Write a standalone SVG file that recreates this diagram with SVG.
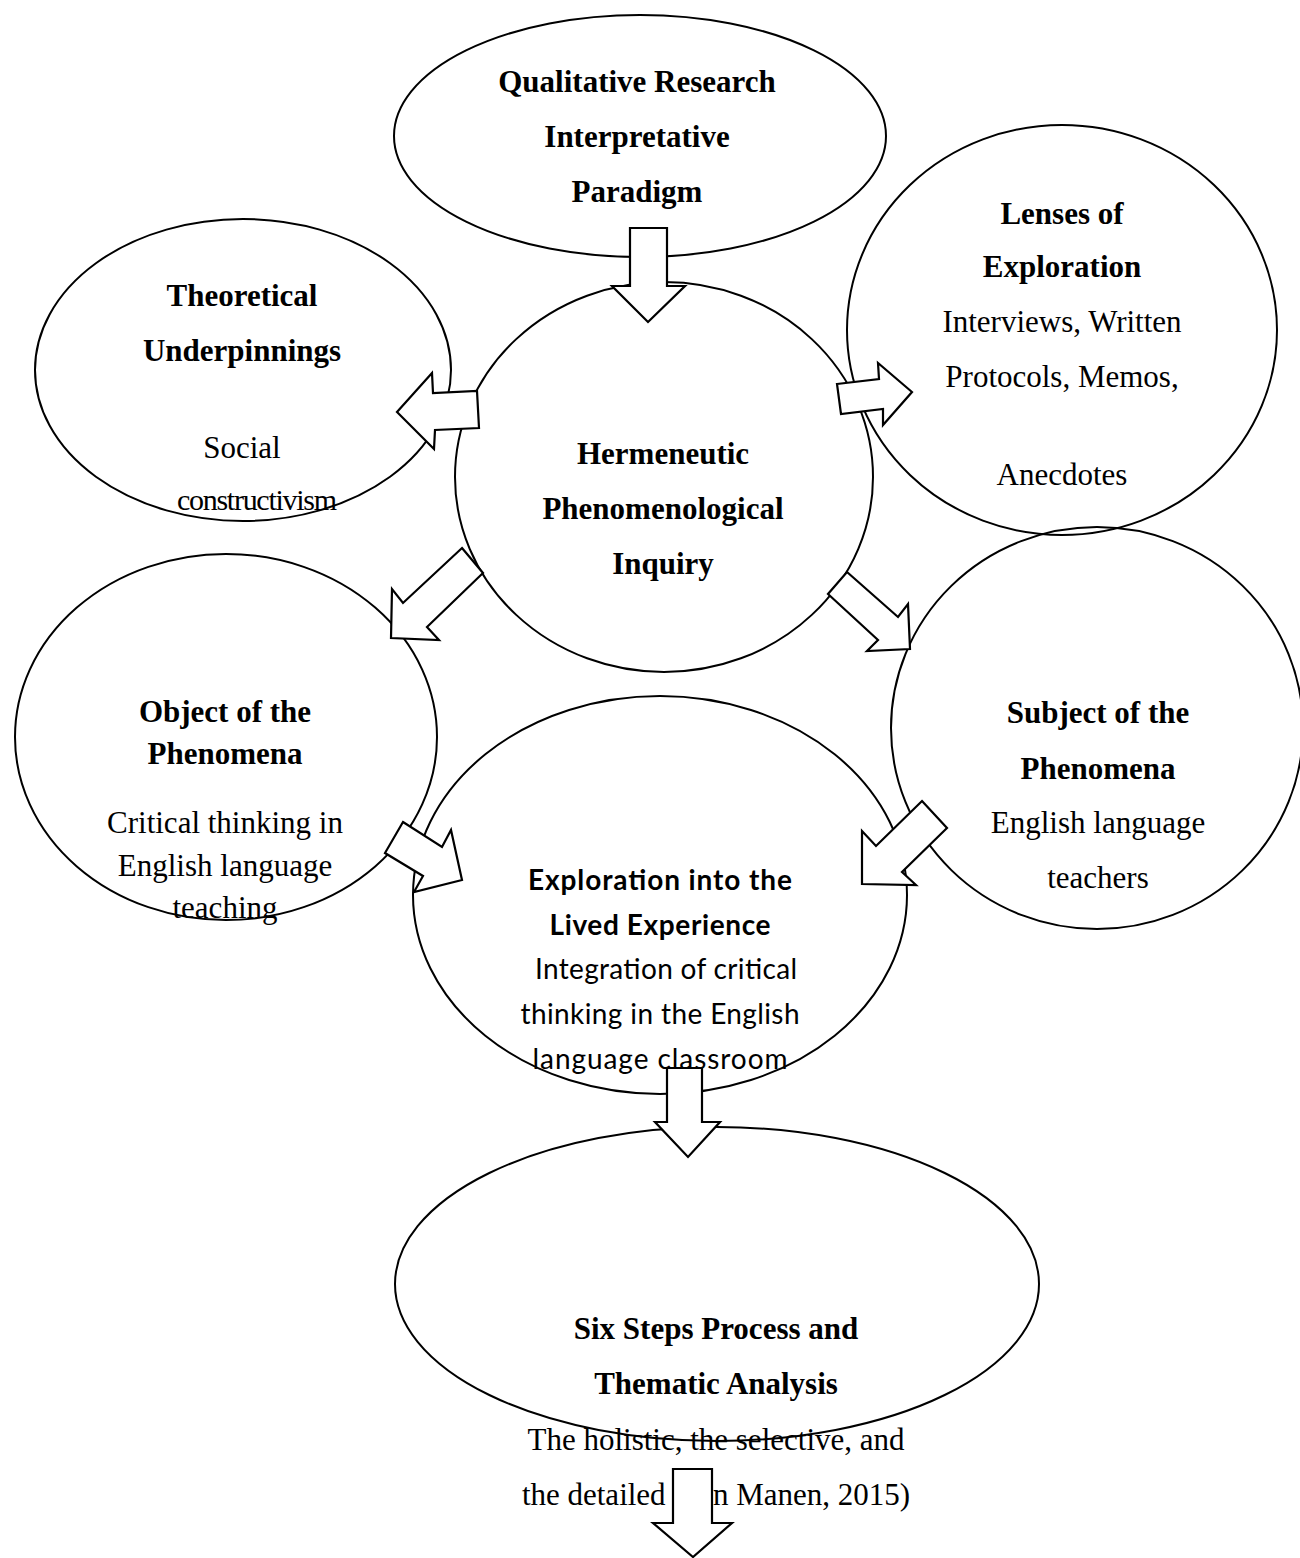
<svg xmlns="http://www.w3.org/2000/svg" width="1300" height="1558" viewBox="0 0 1300 1558">
<style>
.node ellipse{fill:none;stroke:#000;stroke-width:2}
.arrow{fill:#fff;stroke:#000;stroke-width:2.2;stroke-linejoin:miter}
text{font-family:"Liberation Serif","Times New Roman",serif;font-size:31px;fill:#000;text-anchor:middle}
.b{font-weight:bold}
.c{font-family:Lato,"Open Sans",sans-serif;font-size:28px}
</style>
<rect width="1300" height="1558" fill="#fff"/>
<g id="node-qualitative" class="node"><ellipse cx="640" cy="136" rx="246" ry="121"/></g>
<g id="node-theoretical" class="node"><ellipse cx="243" cy="370" rx="208" ry="151"/></g>
<g id="node-lenses" class="node"><ellipse cx="1062" cy="330" rx="215" ry="205"/></g>
<g id="node-hermeneutic" class="node"><ellipse cx="664" cy="477" rx="209" ry="195"/></g>
<g id="node-object" class="node"><ellipse cx="226" cy="737" rx="211" ry="183"/></g>
<g id="node-subject" class="node"><ellipse cx="1097" cy="728" rx="206" ry="201"/></g>
<g id="node-exploration" class="node"><ellipse cx="660" cy="895" rx="247" ry="199"/></g>
<g id="node-sixsteps" class="node"><ellipse cx="717" cy="1284" rx="322" ry="157"/></g>
<g id="connectors">
<polygon class="arrow" points="630,228 667,228 667,286 685,286 648,322 612,286 630,286"/>
<polygon class="arrow" points="397,412 432,373 433,393 477,391 479,428 435,430 434,449"/>
<polygon class="arrow" points="837,384 879,379 878,363 912,392 883,425 883,409 841,414"/>
<polygon class="arrow" points="462,548 483,573 427,627 439,640 391,638 392,589 403,603"/>
<polygon class="arrow" points="847,572 898,617 908,604 910,649 867,651 878,640 828,594"/>
<polygon class="arrow" points="403,822 442,847 451,830 462,880 414,892 423,876 385,853"/>
<polygon class="arrow" points="922,801 947,828 902,872 916,885 862,884 862,831 876,846"/>
<polygon class="arrow" points="667,1068 702,1068 702,1122 720,1122 688,1157 655,1122 667,1122"/>
</g>
<g id="labels">
<text class="b" x="637" y="92">Qualitative Research</text>
<text class="b" x="637" y="147">Interpretative</text>
<text class="b" x="637" y="202">Paradigm</text>
<text class="b" x="242" y="306">Theoretical</text>
<text class="b" x="242" y="361">Underpinnings</text>
<text x="242" y="458">Social</text>
<text x="257" y="510" style="font-size:30px" textLength="160" lengthAdjust="spacing">constructivism</text>
<text class="b" x="1062" y="224">Lenses of</text>
<text class="b" x="1062" y="277">Exploration</text>
<text x="1062" y="332">Interviews, Written</text>
<text x="1062" y="387">Protocols, Memos,</text>
<text x="1062" y="485">Anecdotes</text>
<text class="b" x="663" y="464">Hermeneutic</text>
<text class="b" x="663" y="519">Phenomenological</text>
<text class="b" x="663" y="574">Inquiry</text>
<text class="b" x="225" y="722">Object of the</text>
<text class="b" x="225" y="764">Phenomena</text>
<text x="225" y="833">Critical thinking in</text>
<text x="225" y="876">English language</text>
<text x="225" y="918">teaching</text>
<text class="b" x="1098" y="723">Subject of the</text>
<text class="b" x="1098" y="779">Phenomena</text>
<text x="1098" y="833">English language</text>
<text x="1098" y="888">teachers</text>
<text class="c b" x="660" y="890" textLength="264" lengthAdjust="spacing">Exploration into the</text>
<text class="c b" x="660" y="935" textLength="221" lengthAdjust="spacing">Lived Experience</text>
<text class="c" x="666" y="979" textLength="262" lengthAdjust="spacing">Integration of critical</text>
<text class="c" x="660" y="1024" textLength="279" lengthAdjust="spacing">thinking in the English</text>
<text class="c" x="660" y="1069" textLength="255" lengthAdjust="spacing">language classroom</text>
<text class="b" x="716" y="1339">Six Steps Process and</text>
<text class="b" x="716" y="1394">Thematic Analysis</text>
<text x="716" y="1450">The holistic, the selective, and</text>
<text x="716" y="1505">the detailed (van Manen, 2015)</text>
</g>
<g id="connector-out">
<polygon class="arrow" points="673,1469 712,1469 712,1523 732,1523 693,1557 653,1523 673,1523"/>
</g>
</svg>
